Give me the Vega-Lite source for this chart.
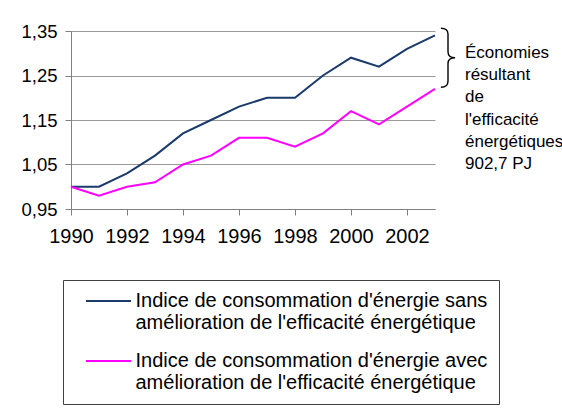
{
  "$schema": "https://vega.github.io/schema/vega-lite/v6.json",
  "width": 364,
  "height": 178,
  "autosize": "none",
  "padding": {"left": 71, "top": 31, "right": 127, "bottom": 206},
  "background": "white",
  "config": {"font": "Liberation Sans", "view": {"stroke": null}},
  "datasets": {
    "idx": [
      {"annee": 1990, "serie": "Indice de consommation d'énergie sans amélioration de l'efficacité énergétique", "indice": 1.00},
      {"annee": 1991, "serie": "Indice de consommation d'énergie sans amélioration de l'efficacité énergétique", "indice": 1.00},
      {"annee": 1992, "serie": "Indice de consommation d'énergie sans amélioration de l'efficacité énergétique", "indice": 1.03},
      {"annee": 1993, "serie": "Indice de consommation d'énergie sans amélioration de l'efficacité énergétique", "indice": 1.07},
      {"annee": 1994, "serie": "Indice de consommation d'énergie sans amélioration de l'efficacité énergétique", "indice": 1.12},
      {"annee": 1995, "serie": "Indice de consommation d'énergie sans amélioration de l'efficacité énergétique", "indice": 1.15},
      {"annee": 1996, "serie": "Indice de consommation d'énergie sans amélioration de l'efficacité énergétique", "indice": 1.18},
      {"annee": 1997, "serie": "Indice de consommation d'énergie sans amélioration de l'efficacité énergétique", "indice": 1.20},
      {"annee": 1998, "serie": "Indice de consommation d'énergie sans amélioration de l'efficacité énergétique", "indice": 1.20},
      {"annee": 1999, "serie": "Indice de consommation d'énergie sans amélioration de l'efficacité énergétique", "indice": 1.25},
      {"annee": 2000, "serie": "Indice de consommation d'énergie sans amélioration de l'efficacité énergétique", "indice": 1.29},
      {"annee": 2001, "serie": "Indice de consommation d'énergie sans amélioration de l'efficacité énergétique", "indice": 1.27},
      {"annee": 2002, "serie": "Indice de consommation d'énergie sans amélioration de l'efficacité énergétique", "indice": 1.31},
      {"annee": 2003, "serie": "Indice de consommation d'énergie sans amélioration de l'efficacité énergétique", "indice": 1.34},
      {"annee": 1990, "serie": "Indice de consommation d'énergie avec amélioration de l'efficacité énergétique", "indice": 1.00},
      {"annee": 1991, "serie": "Indice de consommation d'énergie avec amélioration de l'efficacité énergétique", "indice": 0.98},
      {"annee": 1992, "serie": "Indice de consommation d'énergie avec amélioration de l'efficacité énergétique", "indice": 1.00},
      {"annee": 1993, "serie": "Indice de consommation d'énergie avec amélioration de l'efficacité énergétique", "indice": 1.01},
      {"annee": 1994, "serie": "Indice de consommation d'énergie avec amélioration de l'efficacité énergétique", "indice": 1.05},
      {"annee": 1995, "serie": "Indice de consommation d'énergie avec amélioration de l'efficacité énergétique", "indice": 1.07},
      {"annee": 1996, "serie": "Indice de consommation d'énergie avec amélioration de l'efficacité énergétique", "indice": 1.11},
      {"annee": 1997, "serie": "Indice de consommation d'énergie avec amélioration de l'efficacité énergétique", "indice": 1.11},
      {"annee": 1998, "serie": "Indice de consommation d'énergie avec amélioration de l'efficacité énergétique", "indice": 1.09},
      {"annee": 1999, "serie": "Indice de consommation d'énergie avec amélioration de l'efficacité énergétique", "indice": 1.12},
      {"annee": 2000, "serie": "Indice de consommation d'énergie avec amélioration de l'efficacité énergétique", "indice": 1.17},
      {"annee": 2001, "serie": "Indice de consommation d'énergie avec amélioration de l'efficacité énergétique", "indice": 1.14},
      {"annee": 2002, "serie": "Indice de consommation d'énergie avec amélioration de l'efficacité énergétique", "indice": 1.18},
      {"annee": 2003, "serie": "Indice de consommation d'énergie avec amélioration de l'efficacité énergétique", "indice": 1.22}
    ],
    "note": [
      {"texte": "Économies|résultant|de|l'efficacité|énergétiques|902,7 PJ"}
    ]
  },
  "layer": [
    {
      "data": {"name": "idx"},
      "mark": {"type": "line", "strokeWidth": 2},
      "encoding": {
        "x": {
          "field": "annee", "type": "quantitative",
          "scale": {"domain": [1990, 2003], "nice": false, "zero": false},
          "axis": {
            "title": null, "grid": false,
            "values": [1990, 1991, 1992, 1993, 1994, 1995, 1996, 1997, 1998, 1999, 2000, 2001, 2002, 2003],
            "labelExpr": "datum.value % 2 == 0 ? format(datum.value, 'd') : ''",
            "labelFontSize": 20, "labelColor": "#000000", "labelPadding": 11,
            "labelFlush": false, "labelOverlap": false,
            "domainColor": "#808080", "tickColor": "#808080", "tickSize": 6
          }
        },
        "y": {
          "field": "indice", "type": "quantitative",
          "scale": {"domain": [0.95, 1.35], "nice": false, "zero": false},
          "axis": {
            "title": null, "grid": true, "gridColor": "#999999",
            "values": [0.95, 1.05, 1.15, 1.25, 1.35],
            "labelExpr": "replace(format(datum.value, '.2f'), '.', ',')",
            "labelFontSize": 18.5, "labelColor": "#000000", "labelPadding": 8,
            "labelFlush": false, "labelOverlap": false,
            "domainColor": "#808080", "tickColor": "#808080", "tickSize": 6
          }
        },
        "color": {
          "field": "serie", "type": "nominal",
          "scale": {
            "domain": [
              "Indice de consommation d'énergie sans amélioration de l'efficacité énergétique",
              "Indice de consommation d'énergie avec amélioration de l'efficacité énergétique"
            ],
            "range": ["#1a3a6b", "#ff00ff"]
          },
          "legend": {
            "title": null, "orient": "none", "legendX": -8, "legendY": 249,
            "direction": "vertical",
            "symbolType": "M-4.5,0H4.5", "symbolSize": 100, "symbolStrokeWidth": 2,
            "symbolFillColor": "transparent", "symbolOffset": 24.5,
            "labelExpr": "[slice(datum.label, 0, 37), slice(datum.label, 38)]",
            "labelFontSize": 20, "labelLimit": 600, "labelOffset": 17, "labelColor": "#000000",
            "padding": 11, "strokeColor": "#404040", "fillColor": "#ffffff",
            "rowPadding": 18
          }
        }
      }
    },
    {
      "data": {"name": "note"},
      "mark": {"type": "point", "shape": "M-0.24,-1Q0,-1 0,-0.8L0,-0.2Q0,0 0.24,0Q0,0 0,0.2L0,0.8Q0,1 -0.24,1", "filled": false, "stroke": "#000000", "strokeWidth": 1.4, "size": 3481, "xOffset": 13, "opacity": 1},
      "encoding": {
        "x": {"datum": 2003, "type": "quantitative"},
        "y": {"datum": 1.29, "type": "quantitative"}
      }
    },
    {
      "data": {"name": "note"},
      "mark": {"type": "text", "lineBreak": "|", "align": "left", "baseline": "alphabetic", "dx": 30, "dy": 27, "fontSize": 17, "lineHeight": 22.2, "color": "#000000"},
      "encoding": {
        "x": {"datum": 2003, "type": "quantitative"},
        "y": {"datum": 1.35, "type": "quantitative"},
        "text": {"field": "texte"}
      }
    }
  ]
}
